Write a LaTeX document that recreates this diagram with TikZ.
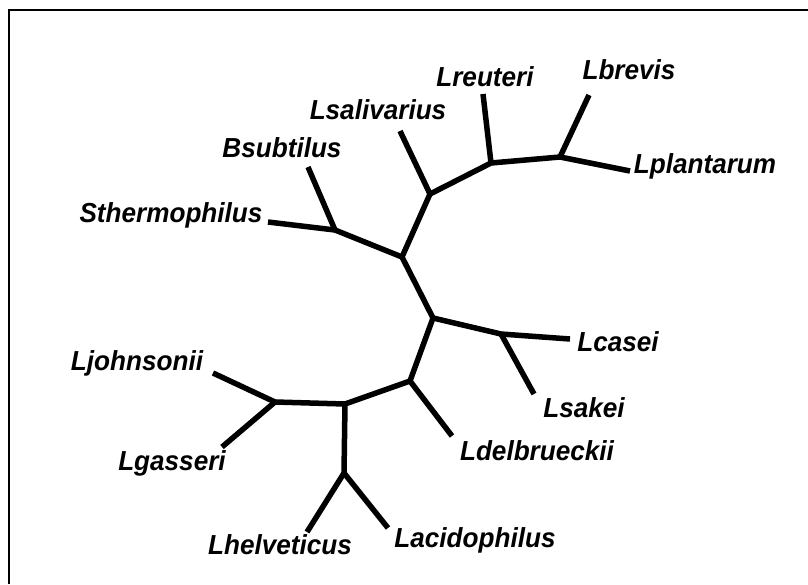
\documentclass[tikz,border=0pt]{standalone}
\usepackage{fontspec}
\setmainfont{Liberation Sans}
\newfontfamily\taxonfont[FakeStretch=0.95]{Liberation Sans}
\begin{document}
\begin{tikzpicture}[x=1pt,y=-1pt,
  branch/.style={line width=5.5pt,line cap=butt,line join=round},
  taxon/.style={font=\taxonfont\fontsize{27.5}{30}\selectfont\bfseries\itshape,inner sep=0pt,anchor=center}]
\useasboundingbox (0,0) rectangle (808,584);
\fill[white] (0,0) rectangle (808,584);
\draw[line width=2pt] (9,584) -- (9,10) -- (808,10);
% internal nodes
\coordinate (A) at (402,257);
\coordinate (B) at (433,318);
\coordinate (C) at (430,194);
\coordinate (D) at (491,163);
\coordinate (E) at (560,157);
\coordinate (F) at (335,230);
\coordinate (G) at (501,334);
\coordinate (H) at (410,381);
\coordinate (I) at (345,404);
\coordinate (J) at (275,402);
\coordinate (K) at (344,473);
% tips
\coordinate (tbrevis) at (589,95);
\coordinate (tplant) at (630,171);
\coordinate (treut) at (483,94);
\coordinate (tsaliv) at (400,131);
\coordinate (tbsub) at (308,167);
\coordinate (tsther) at (268,222);
\coordinate (tcasei) at (570,339);
\coordinate (tsakei) at (534,394);
\coordinate (tdelb) at (452,436);
\coordinate (tjohn) at (213,373);
\coordinate (tgass) at (222,447);
\coordinate (thelv) at (307,532);
\coordinate (tacid) at (388,528);
% branches
\draw[branch] (A) -- (B);
\draw[branch] (A) -- (C);
\draw[branch] (A) -- (F);
\draw[branch] (C) -- (D);
\draw[branch] (C) -- (tsaliv);
\draw[branch] (D) -- (E);
\draw[branch] (D) -- (treut);
\draw[branch] (E) -- (tbrevis);
\draw[branch] (E) -- (tplant);
\draw[branch] (F) -- (tbsub);
\draw[branch] (F) -- (tsther);
\draw[branch] (B) -- (G);
\draw[branch] (G) -- (tcasei);
\draw[branch] (G) -- (tsakei);
\draw[branch] (B) -- (H);
\draw[branch] (H) -- (tdelb);
\draw[branch] (H) -- (I);
\draw[branch] (I) -- (J);
\draw[branch] (J) -- (tjohn);
\draw[branch] (J) -- (tgass);
\draw[branch] (I) -- (K);
\draw[branch] (K) -- (thelv);
\draw[branch] (K) -- (tacid);
% labels
\node[taxon] (lbrevis) at (629,70) {Lbrevis};
\node[taxon] (lreut) at (485,77) {Lreuteri};
\node[taxon] (lsaliv) at (378,110) {Lsalivarius};
\node[taxon] (lbsub) at (282,148) {Bsubtilus};
\node[taxon] (lsther) at (171,215) {Sthermophilus};
\node[taxon] (lplant) at (705,166) {Lplantarum};
\node[taxon] (lcasei) at (618,342) {Lcasei};
\node[taxon] (lsakei) at (584,408) {Lsakei};
\node[taxon] (ldelb) at (537,451) {Ldelbrueckii};
\node[taxon] (ljohn) at (137,363) {Ljohnsonii};
\node[taxon] (lgass) at (172,463) {Lgasseri};
\node[taxon] (lhelv) at (280,545) {Lhelveticus};
\node[taxon] (lacid) at (475,540) {Lacidophilus};
\end{tikzpicture}
\end{document}
